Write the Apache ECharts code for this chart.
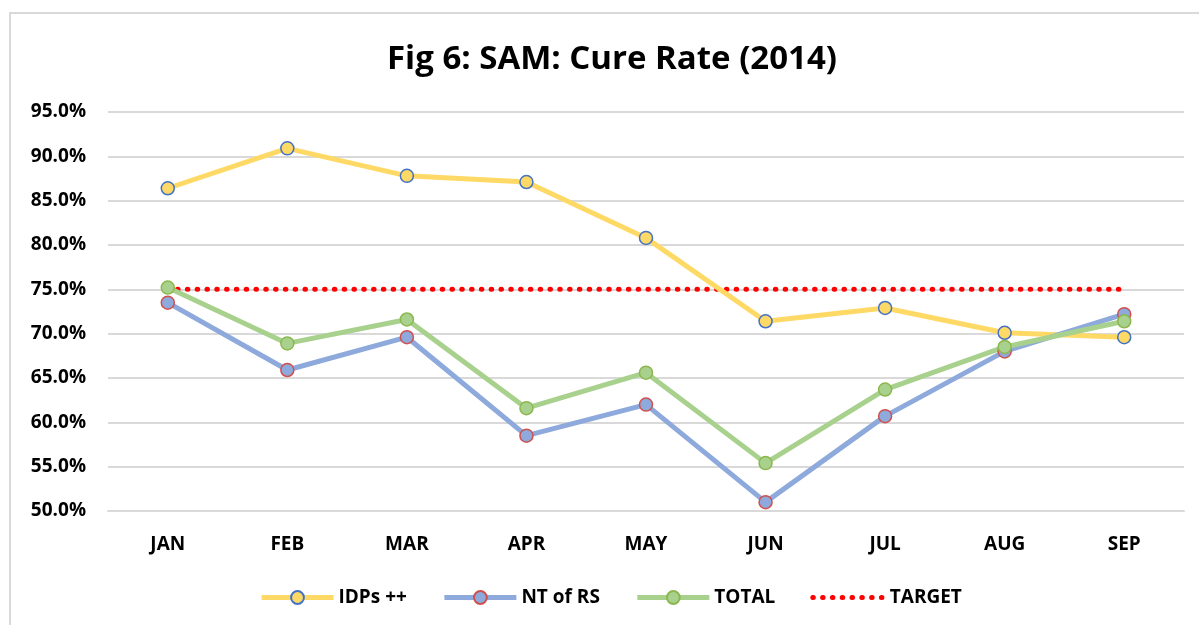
<!DOCTYPE html>
<html><head><meta charset="utf-8">
<script src="https://cdn.jsdelivr.net/npm/echarts@6/dist/echarts.min.js"></script>
<style>html,body{margin:0;padding:0;background:#fff}#c{width:1199px;height:625px}</style>
</head><body><div id="c"></div>
<script>
const months = ['JAN','FEB','MAR','APR','MAY','JUN','JUL','AUG','SEP'];
const idps = [86.4, 90.9, 87.8, 87.1, 80.8, 71.4, 72.9, 70.1, 69.6];
const ntOfRs = [73.5, 65.9, 69.6, 58.5, 62.0, 51.0, 60.7, 68.0, 72.2];
const total = [75.2, 68.9, 71.6, 61.6, 65.6, 55.4, 63.7, 68.5, 71.4];
const target = [75, 75, 75, 75, 75, 75, 75, 75, 75];
const yMin = 50, yMax = 95, yStep = 5;

const FONT = '"Open Sans", "Noto Sans", sans-serif';
function lineSeries(name, data, lineColor, fill, border) {
  return {
    name, type: 'line', data,
    symbol: 'circle', symbolSize: 13,
    lineStyle: { color: lineColor, width: 5 },
    itemStyle: { color: fill, borderColor: border, borderWidth: 1.5 },
    emphasis: { disabled: true },
    z: 3
  };
}
const chart = echarts.init(document.getElementById('c'), null, { renderer: 'canvas' });
chart.setOption({
  animation: false,
  backgroundColor: '#fff',
  graphic: [{
    type: 'rect', left: 9, top: 12, z: -10,
    shape: { width: 1300, height: 700 },
    style: { fill: '#fff', stroke: '#d9d9d9', lineWidth: 2 }
  }],
  title: {
    text: 'Fig 6: SAM: Cure Rate (2014)',
    left: 382, top: 38,
    textStyle: { fontFamily: FONT, fontWeight: 'bold', fontSize: 33, color: '#000' }
  },
  legend: {
    bottom: 13, left: 254,
    itemWidth: 72, itemHeight: 16, itemGap: 35,
    lineStyle: { width: 5 },
    textStyle: { fontFamily: FONT, fontWeight: 'bold', fontSize: 19, color: '#000' },
    data: [
      { name: 'IDPs ++' },
      { name: 'NT of RS' },
      { name: 'TOTAL' },
      { name: 'TARGET', itemStyle: { color: 'rgba(0,0,0,0)', borderWidth: 0, opacity: 0 } }
    ]
  },
  grid: { left: 108, right: 15, top: 112, bottom: 114 },
  xAxis: {
    type: 'category', data: months, boundaryGap: true,
    axisLine: { show: true, lineStyle: { color: '#d9d9d9', width: 2 } },
    axisTick: { show: false },
    axisLabel: { margin: 24, fontFamily: FONT, fontWeight: 'bold', fontSize: 19, color: '#000' }
  },
  yAxis: {
    type: 'value', min: yMin, max: yMax, interval: yStep,
    axisLine: { show: false }, axisTick: { show: false },
    splitLine: { lineStyle: { color: '#d9d9d9', width: 2 } },
    axisLabel: {
      margin: 22, fontFamily: FONT, fontWeight: 'bold', fontSize: 19, color: '#000',
      formatter: v => v.toFixed(1) + '%'
    }
  },
  series: [
    lineSeries('IDPs ++', idps, '#FFD966', '#FFD966', '#4472C4'),
    lineSeries('NT of RS', ntOfRs, '#8EA9DB', '#8EA9DB', '#D0504D'),
    lineSeries('TOTAL', total, '#A9D18E', '#A9D18E', '#8DB74E'),
    {
      name: 'TARGET', type: 'line', data: target, symbol: 'none',
      lineStyle: { color: '#FF0000', width: 5, type: [0.5, 9.3], cap: 'round' },
      itemStyle: { color: '#FF0000' },
      emphasis: { disabled: true }, z: 2
    }
  ]
});
</script></body></html>
